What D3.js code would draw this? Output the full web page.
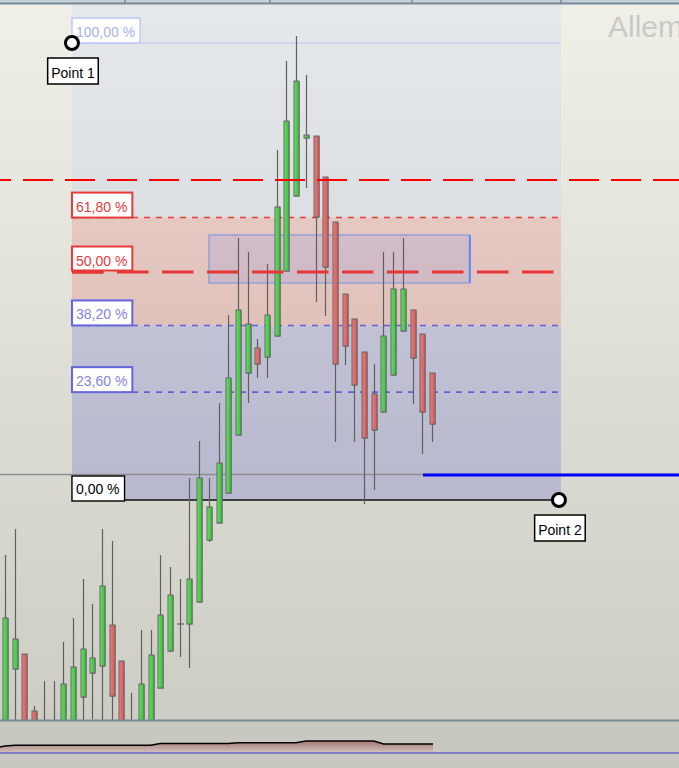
<!DOCTYPE html>
<html><head><meta charset="utf-8">
<script src="https://cdn.jsdelivr.net/npm/d3@7"></script>
<style>html,body{margin:0;padding:0;overflow:hidden;background:#d8d8d0}svg{display:block}</style>
</head><body>
<svg id="c" width="679" height="768"></svg>
<script>
// ---------- data (prices in chart units) ----------
const opens  = [265,331,346,289,260,255,265,265,303,327,334,375,339,255,265,265,312,349,376,376,398,460,477,507,565,627,652,643,664,729,804,862,864,823,778,706,681,648,606,588,625,669,690,666,627];
const highs  = [445,471,346,294,319,319,358,382,421,396,471,459,339,307,370,370,445,433,421,522,559,522,597,685,762,748,661,736,850,939,964,925,864,823,778,706,681,648,636,748,748,762,690,666,627];
const lows   = [255,270,255,255,250,255,255,255,270,281,270,270,255,255,255,255,312,349,343,332,398,458,477,507,565,597,622,622,664,729,804,812,698,684,558,635,558,496,510,588,625,669,596,546,558];
const closes = [382,361,265,265,270,265,316,333,351,342,414,304,265,265,316,345,385,405,376,421,522,493,537,622,690,676,636,685,793,879,919,865,783,733,636,654,615,562,570,664,711,711,642,588,576];
const indicator = [14,14.7,14.7,14.7,14.7,14.7,14.7,14.7,14.7,14.7,14.7,14.7,14.7,14.7,14.7,14.7,16.5,16.5,16.5,16.5,16.5,16.5,16.5,16.5,17.3,17.3,17.3,17.3,17.3,17.3,17.3,19,19,19,19,19,19,19,19,16,16,16,16,16,16];

const fibHigh = 957, fibLow = 500;              // Point 1 / Point 2 prices
const fibStartIdx = 6.9, fibEndIdx = 57.08;     // Point 1 / Point 2 bar index
const fibPercents = [100, 61.8, 50, 38.2, 23.6, 0];
const fibLabels   = ["100,00 %","61,80 %","50,00 %","38,20 %","23,60 %","0,00 %"];
const pointLabels = ["Point 1","Point 2"];
const redLinePrice = 820;       // long dashed red horizontal line
const midLinePrice = 728;       // thick dashed red line
const lastPrice = 525.5;        // gray horizontal + blue line
const blueStartIdx = 43.07;
const zoneRect = {i0: 21.02, i1: 47.9, p0: 765, p1: 717};
const title = "Allemagne 30";
const topTicks = [125, 270, 412, 561];

// ---------- scales ----------
const W = 679, H = 768, mainBottom = 720;
const x = d3.scaleLinear().domain([0, 44]).range([5, 432]);
const y = d3.scaleLinear().domain([280, 1000]).range([mainBottom, 0]);
const yi = d3.scaleLinear().domain([0, 20]).range([760, 740]);
const fibY = p => y(fibLow + (fibHigh - fibLow) * p / 100);

const svg = d3.select("#c");
const defs = svg.append("defs");
function lg(id, stops, vertical=true){
  const g = defs.append("linearGradient").attr("id", id)
    .attr("x1",0).attr("y1",0).attr("x2",vertical?0:1).attr("y2",vertical?1:0);
  stops.forEach(s => g.append("stop").attr("offset", s[0]).attr("stop-color", s[1]));
}
lg("bg", [[0,"#f0f0e8"],[1,"#cdcdc5"]]);
lg("zUp", [[0,"#e5e9eb"],[1,"#dcdfe2"]]);
lg("zPink", [[0,"#e4c8c1"],[1,"#e0c2bb"]]);
lg("zBlue", [[0,"#c1c2d5"],[1,"#b8b8ce"]]);
lg("gGreen", [[0,"#86e886"],[0.35,"#4fd34f"],[1,"#3fc43f"]], false);
lg("gRed", [[0,"#f29090"],[0.35,"#e86a6a"],[1,"#dc5c5c"]], false);
lg("gInd", [[0,"#a47a74"],[1,"#d3c4be"]]);
defs.append("clipPath").attr("id","mainClip").append("rect").attr("x",0).attr("y",4).attr("width",W).attr("height",mainBottom-4);

// backgrounds
svg.append("rect").attr("x",0).attr("y",0).attr("width",W).attr("height",mainBottom).attr("fill","url(#bg)");
svg.append("rect").attr("x",0).attr("y",mainBottom).attr("width",W).attr("height",H-mainBottom).attr("fill","#c8c8c0");

const main = svg.append("g").attr("clip-path","url(#mainClip)");
const fx0 = x(fibStartIdx), fx1 = x(fibEndIdx);
// fib zones
main.append("rect").attr("x",fx0).attr("y",0).attr("width",fx1-fx0+2).attr("height",fibY(61.8)).attr("fill","url(#zUp)");
main.append("rect").attr("x",fx0).attr("y",fibY(61.8)).attr("width",fx1-fx0+2).attr("height",fibY(38.2)-fibY(61.8)).attr("fill","url(#zPink)");
main.append("rect").attr("x",fx0).attr("y",fibY(38.2)).attr("width",fx1-fx0+2).attr("height",fibY(0)-fibY(38.2)).attr("fill","url(#zBlue)");

// title (clipped by the right edge as in the original)
svg.append("text").attr("x",608).attr("y",37).attr("font-family","Liberation Sans, Arial, sans-serif")
  .attr("font-size",30).attr("fill","#c9c9c6").text(title);

// rectangle zone
main.append("rect").attr("x",x(zoneRect.i0)).attr("y",y(zoneRect.p0))
  .attr("width",x(zoneRect.i1)-x(zoneRect.i0)).attr("height",y(zoneRect.p1)-y(zoneRect.p0))
  .attr("fill","rgba(170,165,215,0.32)").attr("stroke","#7092e4").attr("stroke-width",1);
main.append("line").attr("x1",x(zoneRect.i1)).attr("x2",x(zoneRect.i1)).attr("y1",y(zoneRect.p0)).attr("y2",y(zoneRect.p1))
  .attr("stroke","#5b8af2").attr("stroke-width",2);

// fib lines (50 % level is drawn by the thick dashed line)
const fibStyle = {
  100: {stroke:"#b9c4f2", dash:null, w:1},
  61.8:{stroke:"#e83a3a", dash:"6,6", w:1.6},
  38.2:{stroke:"#6262d8", dash:"6,6", w:1.6},
  23.6:{stroke:"#6262d8", dash:"6,6", w:1.6},
  0:   {stroke:"#111111", dash:null, w:1.4}
};
fibPercents.filter(p => fibStyle[p]).forEach(p => {
  const s = fibStyle[p];
  main.append("line").attr("x1",fx0).attr("x2",fx1+2).attr("y1",fibY(p)).attr("y2",fibY(p))
    .attr("stroke",s.stroke).attr("stroke-width",s.w).attr("stroke-dasharray",s.dash);
});

// gray last price line + blue line
main.append("line").attr("x1",0).attr("x2",W).attr("y1",y(lastPrice)).attr("y2",y(lastPrice))
  .attr("stroke","#8e8e8e").attr("stroke-width",1.6);
main.append("line").attr("x1",x(blueStartIdx)).attr("x2",W).attr("y1",y(lastPrice)+0.5).attr("y2",y(lastPrice)+0.5)
  .attr("stroke","#0000ff").attr("stroke-width",3);

// candles
const candles = opens.map((o,i)=>({i, o, h:highs[i], l:lows[i], c:closes[i]}));
const cg = main.append("g");
const bw = 5;
candles.forEach(d => {
  const cx = Math.round(x(d.i)) + 0.5;
  cg.append("line").attr("x1",cx).attr("x2",cx).attr("y1",y(d.h)).attr("y2",y(d.l))
    .attr("stroke","#606060").attr("stroke-width",1.2);
  if (Math.abs(d.o - d.c) < 1) {
    cg.append("line").attr("x1",cx-3.5).attr("x2",cx+3.5).attr("y1",y(d.c)).attr("y2",y(d.c))
      .attr("stroke","#606060").attr("stroke-width",1.2);
  } else {
    const up = d.c > d.o;
    const top = y(Math.max(d.o,d.c)), bot = y(Math.min(d.o,d.c));
    cg.append("rect").attr("x",cx-bw/2+0.5).attr("y",top+0.5).attr("width",bw).attr("height",bot-top)
      .attr("fill","#5e5e5e");
    cg.append("rect").attr("x",cx-bw/2).attr("y",top).attr("width",bw).attr("height",bot-top)
      .attr("fill",up?"url(#gGreen)":"url(#gRed)").attr("stroke","#656565").attr("stroke-width",1);
  }
});

// long red dashed line (full width)
main.append("line").attr("x1",0).attr("x2",W).attr("y1",y(redLinePrice)).attr("y2",y(redLinePrice))
  .attr("stroke","#ff0000").attr("stroke-width",2).attr("stroke-dasharray","30,12").attr("stroke-dashoffset",19);
// thick dashed 50% line
main.append("line").attr("x1",fx0).attr("x2",556).attr("y1",y(midLinePrice)).attr("y2",y(midLinePrice))
  .attr("stroke","#e63636").attr("stroke-width",2.8).attr("stroke-dasharray","31.5,13.5");

// fib labels
const labelStyle = {
  100: {stroke:"#bac6fa", text:"#a9b2ea", w:1.4},
  61.8:{stroke:"#e83a3a", text:"#e83a3a", w:2},
  50:  {stroke:"#e83a3a", text:"#e83a3a", w:2},
  38.2:{stroke:"#6565dc", text:"#8484e2", w:2},
  23.6:{stroke:"#6565dc", text:"#8484e2", w:2},
  0:   {stroke:"#000000", text:"#000000", w:1.4}
};
fibPercents.forEach((p,k) => {
  const s = labelStyle[p];
  const ly = fibY(p);
  const g = svg.append("g");
  const r = g.append("rect").attr("x",fx0).attr("y",p===0? ly-24 : ly-25).attr("height",p===50?24:25)
    .attr("fill","#ffffff").attr("stroke",s.stroke).attr("stroke-width",s.w);
  const t = g.append("text").attr("x",fx0+4).attr("y",ly-6).attr("font-family","Liberation Sans, Arial, sans-serif")
    .attr("font-size",14).attr("fill",s.text).text(fibLabels[k]);
  r.attr("width", t.node().getComputedTextLength() + 9);
});
// first dash of the 50 % line runs over the label's lower edge
svg.append("line").attr("x1",fx0).attr("x2",fx0+31.5).attr("y1",y(midLinePrice)).attr("y2",y(midLinePrice))
  .attr("stroke","#e63636").attr("stroke-width",2.8);

// points
const pts = [[fibStartIdx, fibHigh],[fibEndIdx, fibLow]];
pts.forEach((pt,k) => {
  const px = x(pt[0]), py = y(pt[1]);
  svg.append("circle").attr("cx",px).attr("cy",py).attr("r",6.5)
    .attr("fill","#ffffff").attr("stroke","#000").attr("stroke-width",3);
  const g = svg.append("g");
  const r = g.append("rect").attr("y",py+15).attr("height",26).attr("fill","#fff").attr("stroke","#000").attr("stroke-width",1.5);
  const t = g.append("text").attr("y",py+35).attr("font-family","Liberation Sans, Arial, sans-serif")
    .attr("font-size",14).attr("fill","#000").text(pointLabels[k]);
  const tw = t.node().getComputedTextLength();
  t.attr("x", px - tw/2 + 1);
  r.attr("x", px - tw/2 - 2.5).attr("width", tw + 7);
});

// top strip
svg.append("rect").attr("x",0).attr("y",0).attr("width",W).attr("height",3).attr("fill","#c3ced6");
svg.append("line").attr("x1",0).attr("x2",W).attr("y1",3.5).attr("y2",3.5).attr("stroke","#788a96").attr("stroke-width",2);
topTicks.forEach(t => svg.append("line").attr("x1",t).attr("x2",t).attr("y1",0).attr("y2",4).attr("stroke","#788a96").attr("stroke-width",1.5));

// separator
svg.append("line").attr("x1",0).attr("x2",W).attr("y1",mainBottom+0.5).attr("y2",mainBottom+0.5).attr("stroke","#7a8c96").attr("stroke-width",2);

// indicator pane
const indPts = indicator.map((v,i)=>[x(i), yi(v)]);
indPts.unshift([0, yi(indicator[0]-1)]);
indPts.push([x(44)+1, yi(indicator[44])]);
const area = d3.area().x(d=>d[0]).y0(yi(7)).y1(d=>d[1]);
const line = d3.line().x(d=>d[0]).y(d=>d[1]);
svg.append("path").attr("d",area(indPts)).attr("fill","url(#gInd)");
svg.append("path").attr("d",line(indPts)).attr("fill","none").attr("stroke","#000").attr("stroke-width",1.6);
svg.append("line").attr("x1",0).attr("x2",W).attr("y1",yi(7)).attr("y2",yi(7)).attr("stroke","#3434d2").attr("stroke-width",1.2);
</script>
</body></html>
